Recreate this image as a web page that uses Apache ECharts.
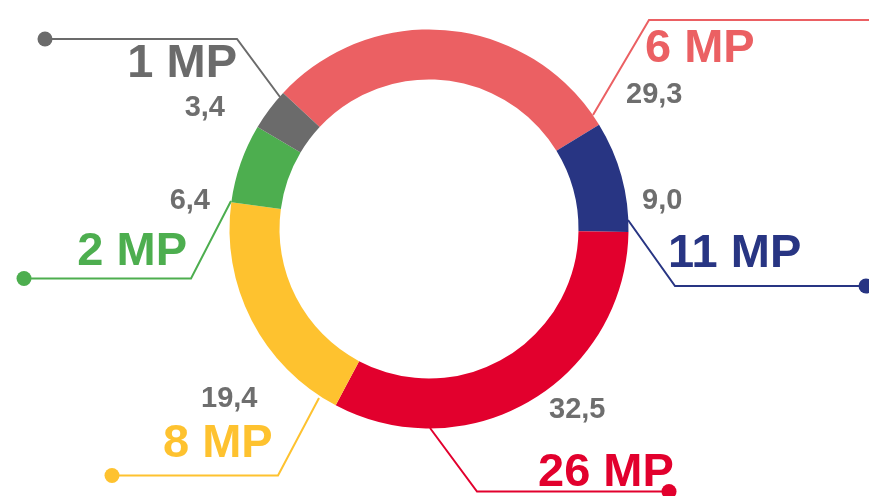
<!DOCTYPE html>
<html><head><meta charset="utf-8">
<script src="https://cdn.jsdelivr.net/npm/echarts@6/dist/echarts.min.js"></script>
<style>html,body{margin:0;padding:0;background:#fff}#c{width:869px;height:496px}</style>
</head><body><div id="c"></div>
<script>
// ---- data ----
const seatLabels = ['6 MP', '11 MP', '26 MP', '8 MP', '2 MP', '1 MP'];
const voteShares = [29.3, 9.0, 32.5, 19.4, 6.4, 3.4];
const colors = ['#EB6063', '#283583', '#E2002D', '#FEC22F', '#4DAE4F', '#6B6B6B'];

// ---- annotation layout (pixels) ----
const seatLabelPos = [
  {x: 645, y: 49, align: 'left'},
  {x: 668, y: 254, align: 'left'},
  {x: 538, y: 473, align: 'left'},
  {x: 163, y: 444, align: 'left'},
  {x: 187, y: 252, align: 'right'},
  {x: 237, y: 64, align: 'right'}
];
const valueLabelPos = [
  {x: 626, y: 95, align: 'left'},
  {x: 642, y: 201, align: 'left'},
  {x: 549, y: 410, align: 'left'},
  {x: 201, y: 399, align: 'left'},
  {x: 210, y: 201, align: 'right'},
  {x: 225, y: 108, align: 'right'}
];
const leaderLines = [
  [[593, 115], [649, 20], [885, 20]],
  [[628, 220], [675, 286], [866, 286]],
  [[430, 428], [477, 491.5], [669, 491.5]],
  [[319, 398], [278, 475.5], [112, 475.5]],
  [[231, 201], [191, 278.5], [24, 278.5]],
  [[280, 97], [237, 39], [45, 39]]
];

const FONT = '"Liberation Sans", Arial, sans-serif';
const chart = echarts.init(document.getElementById('c'), null, {renderer: 'canvas'});

const ringData = voteShares.map((v, i) => ({
  name: seatLabels[i], value: v, itemStyle: {color: colors[i]}
}));
const labelData = voteShares.map((v, i) => ({
  name: seatLabels[i], value: v,
  itemStyle: {color: 'rgba(0,0,0,0)'},
  label: {color: colors[i]},
  labelLine: {lineStyle: {color: colors[i]}}
}));

const common = {
  type: 'pie',
  center: [429, 229],
  radius: [149.5, 199.5],
  startAngle: 137,
  clockwise: true,
  avoidLabelOverlap: false,
  silent: true,
  animation: false,
  emphasis: {disabled: true}
};

chart.setOption({
  backgroundColor: '#fff',
  animation: false,
  series: [
    Object.assign({}, common, {
      data: ringData,
      label: {
        show: true, position: 'outside',
        formatter: p => p.value.toFixed(1).replace('.', ','),
        color: '#6E6E6E', fontFamily: FONT, fontWeight: 'bold', fontSize: 29
      },
      labelLine: {show: false},
      labelLayout: p => {
        const q = valueLabelPos[p.dataIndex];
        return {x: q.x, y: q.y, align: q.align, verticalAlign: 'middle'};
      }
    }),
    Object.assign({}, common, {
      data: labelData,
      label: {
        show: true, position: 'outside',
        formatter: p => p.name,
        fontFamily: FONT, fontWeight: 'bold', fontSize: 47
      },
      labelLine: {show: true, length: 10, length2: 10, lineStyle: {width: 2}},
      labelLayout: p => {
        const q = seatLabelPos[p.dataIndex];
        return {x: q.x, y: q.y, align: q.align, verticalAlign: 'middle',
                labelLinePoints: leaderLines[p.dataIndex].map(pt => pt.slice())};
      }
    })
  ],
  graphic: leaderLines.map((pts, i) => ({
    type: 'circle',
    shape: {cx: pts[2][0], cy: pts[2][1], r: 7.5},
    style: {fill: colors[i]},
    z: 100
  }))
});
</script>
</body></html>
